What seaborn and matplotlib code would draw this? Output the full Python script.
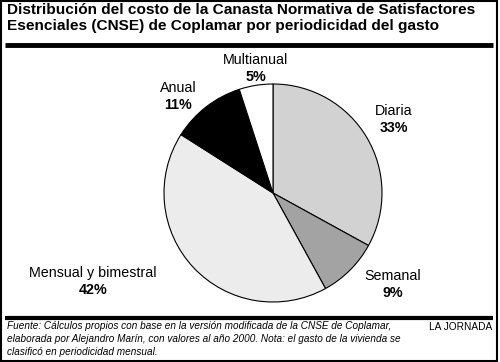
import matplotlib
matplotlib.use("Agg")
import matplotlib.pyplot as plt
import matplotlib.patches as patches
import seaborn as sns

# Data
categories = ["Diaria", "Semanal", "Mensual y bimestral", "Anual", "Multianual"]
shares = [33, 9, 42, 11, 5]
slice_colors = ["#d2d2d2", "#a3a3a3", "#ececec", "#000000", "#ffffff"]

title = ("Distribución del costo de la Canasta Normativa de Satisfactores\n"
         "Esenciales (CNSE) de Coplamar por periodicidad del gasto")
source = ("Fuente: Cálculos propios con base en la versión modificada de la CNSE de Coplamar,\n"
          "elaborada por Alejandro Marín, con valores al año 2000. Nota: el gasto de la vivienda se\n"
          "clasificó en periodicidad mensual.")

if __name__ == "__main__":
    sns.set_theme(style="white")
    plt.rcParams['font.family'] = ['Liberation Sans', 'DejaVu Sans']

    W, H = 500, 362
    fig = plt.figure(figsize=(5, 3.62), dpi=100)
    ax = fig.add_axes([0, 0, 1, 1])

    # pixel-like coordinates: x right, y up (converted from top-based pixels)
    def py(y):
        return H - y

    ax.pie(shares, colors=slice_colors, startangle=90, counterclock=False,
           center=(273, py(193)), radius=109,
           wedgeprops=dict(edgecolor="black", linewidth=0.8))
    ax.set_xlim(0, W)
    ax.set_ylim(0, H)
    ax.set_aspect("auto")
    ax.axis("off")

    # slice labels: (x, y of name line)
    label_pos = [(394, 111), (393, 276), (93, 273), (178, 88), (256, 60)]
    for name, val, (lx, ly) in zip(categories, shares, label_pos):
        ax.text(lx, py(ly), name, ha="center", va="center", fontsize=10.3, color="black")
        ax.text(lx, py(ly + 17), f"{val}%", ha="center", va="center",
                fontsize=10.3, fontweight="bold", color="black")

    # title
    ax.text(7, py(3), title, ha="left", va="top", fontsize=11.1, fontweight="bold",
            linespacing=1.2, color="black")
    # thick rules
    ax.plot([5, 493], [py(45), py(45)], color="black", lw=3.5, solid_capstyle="butt")
    ax.plot([5, 493], [py(318), py(318)], color="black", lw=3, solid_capstyle="butt")

    # footer
    ax.text(7, py(321), source, ha="left", va="top", fontsize=7.2, style="italic",
            linespacing=1.4, color="black")
    ax.text(492, py(327), "LA JORNADA", ha="right", va="center", fontsize=7.3, color="black")

    # frame around the graphic
    ax.add_patch(patches.Rectangle((1, 1), W - 4, H - 2, fill=False,
                                   edgecolor="black", lw=1.5))

    fig.savefig("out.png", dpi=100)
    plt.close(fig)
